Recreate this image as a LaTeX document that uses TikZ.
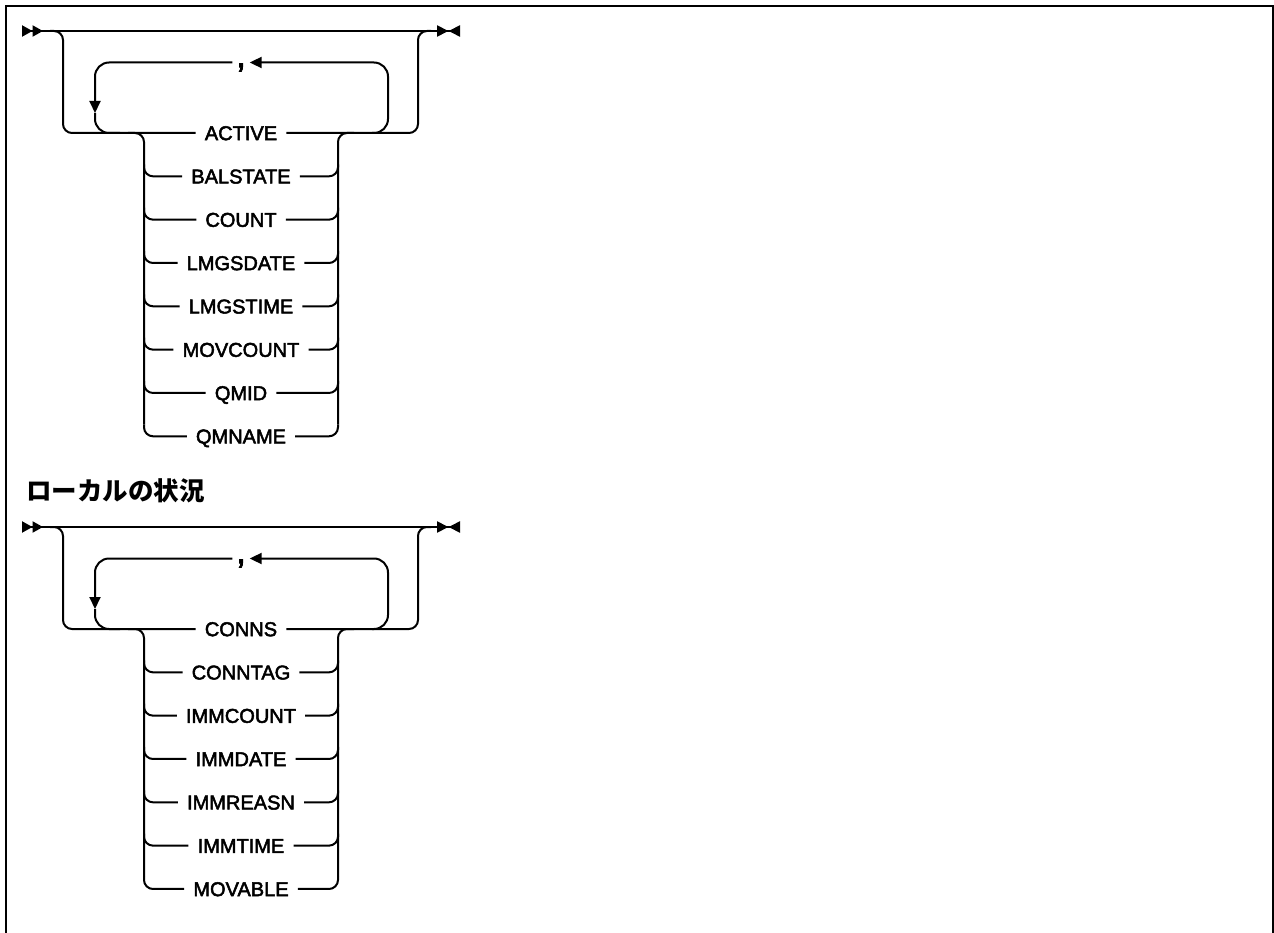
\documentclass[tikz,border=0pt]{standalone}
\usepackage{fontspec}
\setmainfont{Liberation Sans}
\newfontfamily\kwfont{Liberation Sans}[FakeBold=2.5]
\newfontfamily\jpfont{Noto Sans CJK JP}
\usetikzlibrary{arrows.meta}

\begin{document}
\begin{tikzpicture}[x=1pt, y=-1pt,
  rail/.style={line width=2pt, rounded corners=9pt},
  loopline/.style={line width=2pt, rounded corners=14pt},
  kw/.style={font=\kwfont\fontsize{20}{24}\selectfont, inner xsep=9pt, inner ysep=0pt,
             text height=14.3pt, text depth=0pt},
  sepmark/.style={font=\kwfont\fontsize{34}{34}\selectfont, inner sep=0pt, minimum width=17pt,
                  text height=9.2pt, text depth=0pt},
  downtip/.style={-{Triangle[length=12pt, width=11pt]}},
  ends/.style={line width=2pt,
    {Triangle[reversed, length=10.5pt, width=11pt, sep=0pt] Triangle[reversed, length=10.5pt, width=11pt, sep=0pt]}-%
    {Triangle[length=11.5pt, width=11pt, sep=0pt] Triangle[reversed, length=11.5pt, width=11pt, sep=0pt]}}
  ]
  \useasboundingbox (0,0) rectangle (1274,933);
  % frame, open at the bottom
  \draw[line width=2.5pt] (6,933) -- (6,6) -- (1272.8,6) -- (1272.8,933);

  % heading of the second diagram
  \node[font=\jpfont\bfseries\fontsize{25.5}{30}\selectfont, anchor=west, inner sep=0pt]
    (localhead) at (26,491) {ローカルの状況};

  % the two syntax diagrams
  \foreach \dy/\pre/\last/\items in
    {31/sum/7/{ACTIVE,BALSTATE,COUNT,LMGSDATE,LMGSTIME,MOVCOUNT,QMID,QMNAME},
     527/loc/6/{CONNS,CONNTAG,IMMCOUNT,IMMDATE,IMMREASN,IMMTIME,MOVABLE}}{
  \begin{scope}[shift={(0,\dy)}, name prefix=\pre-]
    % main line
    \coordinate (in) at (22,0);
    \coordinate (out) at (460,0);
    \coordinate (tapL) at (50,0);
    \coordinate (byL) at (63,0);
    \coordinate (byR) at (418,0);
    \coordinate (tapR) at (431,0);
    \draw[ends] (in) -- (out);

    % keywords
    \foreach \w [count=\i from 0] in \items {
      \node[kw] (kw\i) at (241, 102+43.33*\i) {\w};
      \coordinate (brL\i) at (144, 90+43.33*\i);
      \coordinate (brR\i) at (338, 90+43.33*\i);
    }

    % bypass
    \draw[rail] (tapL) -- (byL) |- (kw0.west);
    \draw[rail] (kw0.east) -| (byR) -- (tapR);

    % repeat loop
    \node[sepmark] (comma) at (241,31.5) {,};
    \coordinate (loopTip) at (95,82);
    \coordinate (loopIn) at (120,102);
    \coordinate (loopOut) at (372,102);
    \coordinate (loopTR) at (388,31.5);
    \draw[loopline, downtip] (comma.west) -| (loopTip);
    \draw[loopline] (loopTip) |- (loopIn);
    \draw[loopline, downtip] (loopOut) -| (loopTR) -- (comma.east);

    % choice stack
    \coordinate (stkInL) at (128,102);
    \coordinate (stkOutR) at (354,102);
    \draw[rail] (stkInL) -| (brL\last);
    \draw[rail] (brR\last) |- (stkOutR);
    \foreach \i in {1,...,\last} {
      \draw[rail] (brL\i) |- (kw\i.west);
      \draw[rail] (kw\i.east) -| (brR\i);
    }
  \end{scope}
  }
\end{tikzpicture}
\end{document}
